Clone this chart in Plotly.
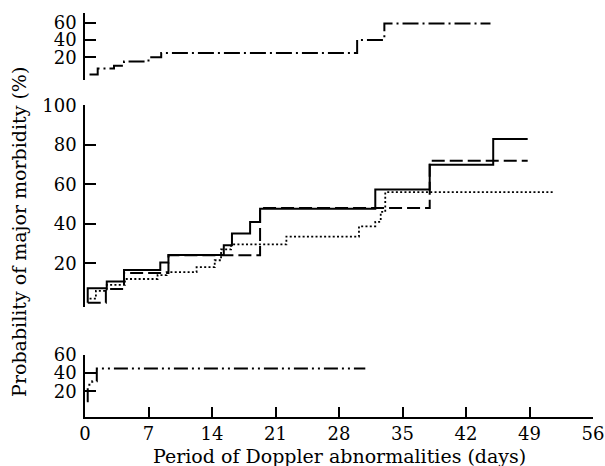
import plotly.graph_objects as go

# ---- data (days, % probability) ----
x_ticks = [0, 7, 14, 21, 28, 35, 42, 49, 56]
top_ticks = [20, 40, 60]
mid_ticks = [20, 40, 60, 80, 100]
bot_ticks = [20, 40, 60]

top_x = [0.5, 1.4, 3.2, 4.3, 7.0, 8.4, 30.0, 33.0, 44.7]
top_y = [0, 7, 10, 15, 20, 25, 40, 59, 59]

solid_x = [0.3, 0.3, 2.4, 4.3, 8.3, 9.2, 15.3, 16.2, 18.2, 19.3, 32.0, 38.0, 45.0, 48.8]
solid_y = [0, 7.3, 10.7, 16.6, 20.3, 24.2, 29.1, 35.0, 40.9, 47.6, 57.4, 69.9, 83.0, 83.0]

dashed_x = [0.3, 2.3, 4.3, 9.2, 19.3, 38.0, 48.8]
dashed_y = [0, 6.9, 15.0, 24.0, 48.0, 72.0, 72.0]

dotted_x = [0.5, 1.2, 2.4, 4.4, 8.0, 9.0, 12.3, 14.3, 15.0, 16.1, 22.2, 30.2, 32.0, 32.6, 33.1, 51.7]
dotted_y = [2, 6, 9, 12, 14, 15.5, 18, 21.5, 27, 29.5, 33.5, 38.7, 41, 46, 56, 56]

bottom_x = [0.2, 0.3, 0.8, 1.3, 30.9]
bottom_y = [9, 27, 31, 45, 45]

FONT = "DejaVu Serif"
fig = go.Figure()

def step(x, y, yaxis, dash, width):
    fig.add_trace(go.Scatter(x=x, y=y, xaxis="x", yaxis=yaxis, mode="lines",
                             line=dict(shape="hv", color="black", width=width, dash=dash),
                             showlegend=False, hoverinfo="skip", cliponaxis=False))

step(top_x, top_y, "y", "16px,4px,2px,4px", 2)
step(dotted_x, dotted_y, "y2", "2px,2.3px", 1.8)
step(dashed_x, dashed_y, "y2", "13px,5px", 2)
step(solid_x, solid_y, "y2", "solid", 2)
step(bottom_x, bottom_y, "y3", "14px,4px,2px,4px,2px,4px", 2)

yax_common = dict(showgrid=False, zeroline=False, showline=True, linecolor="black", linewidth=1.5,
                  ticks="inside", ticklen=11, tickwidth=1.5, tickcolor="black",
                  tickfont=dict(family=FONT, size=18, color="black"), anchor="x",
                  ticklabelstandoff=3)

fig.update_layout(
    width=605, height=466,
    margin=dict(l=85, r=12, t=0, b=49),
    paper_bgcolor="white", plot_bgcolor="white",
    xaxis=dict(range=[0, 56], tickvals=x_ticks, showgrid=False, zeroline=False, showline=True,
               linecolor="black", linewidth=1.5, ticks="inside", ticklen=10, tickwidth=1.5,
               tickcolor="black", tickfont=dict(family=FONT, size=18, color="black"),
               anchor="y3", ticklabelstandoff=0, ticklabeloverflow="allow"),
    yaxis=dict(domain=[0.8297, 0.9952], range=[-6.5, 71.2], tickvals=top_ticks, **yax_common),
    yaxis2=dict(domain=[0.2705, 0.7674], range=[-2.3, 100], tickvals=mid_ticks, **yax_common),
    yaxis3=dict(domain=[0, 0.1535], range=[-8.2, 60], tickvals=bot_ticks, **yax_common),
    annotations=[
        dict(text="Period of Doppler abnormalities (days)", xref="paper", yref="paper",
             x=0.5, y=-0.0965, xanchor="center", yanchor="middle", showarrow=False,
             font=dict(family=FONT, size=19, color="black")),
        dict(text="Probability of major morbidity (%)", xref="paper", yref="paper",
             x=-0.1302, y=0.4556, xanchor="center", yanchor="middle", showarrow=False,
             textangle=-90, font=dict(family=FONT, size=19, color="black")),
    ],
)

fig.write_html("out.html")
